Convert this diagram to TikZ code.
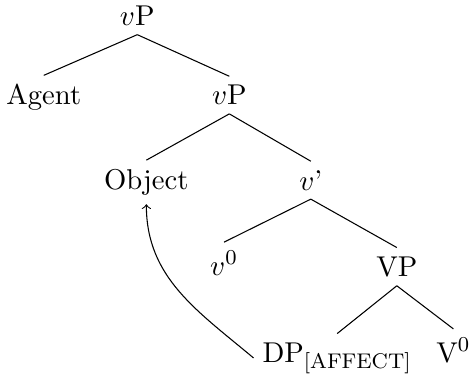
\documentclass[tikz,border=0pt]{standalone}
\usepackage{amsmath}
\usepackage{amssymb}

\begin{document}
\begin{tikzpicture}[tnode/.style={anchor=base, inner sep=3.2pt,
        font=\fontsize{10.8}{13}\selectfont}]
        \useasboundingbox (0,0) rectangle (6.23,-4.96);
        % the tree, row by row
        \node[tnode] (top) at (1.82,-0.34) {$v$P};
        \node[tnode] (agent) at (0.58,-1.39) {Agent};
        \node[tnode] (vp) at (3.04,-1.39) {$v$P};
        \node[tnode] (obj) at (1.94,-2.51) {Object};
        \node[tnode] (vbar) at (4.12,-2.52) {$v$'};
        \node[tnode] (vzero) at (2.97,-3.65) {$v^0$};
        \node[tnode] (VP) at (5.26,-3.66) {VP};
        \node[tnode] (dp) at (4.47,-4.80) {DP$_{\mathrm{[AFFECT]}}$};
        \node[tnode] (Vzero) at (6.01,-4.80) {V$^0$};

        \draw (top.south) -- (agent.north);
        \draw (top.south) -- (vp.north);
        \draw (vp.south) -- (obj.north);
        \draw (vp.south) -- (vbar.north);
        \draw (vbar.south) -- (vzero.north);
        \draw (vbar.south) -- (VP.north);
        \draw (VP.south) -- (dp.north);
        \draw (VP.south) -- (Vzero.north);

        % movement
        \draw[->] (dp.west) to[out=140, in=-90] (obj.south);
      \end{tikzpicture}
\end{document}
